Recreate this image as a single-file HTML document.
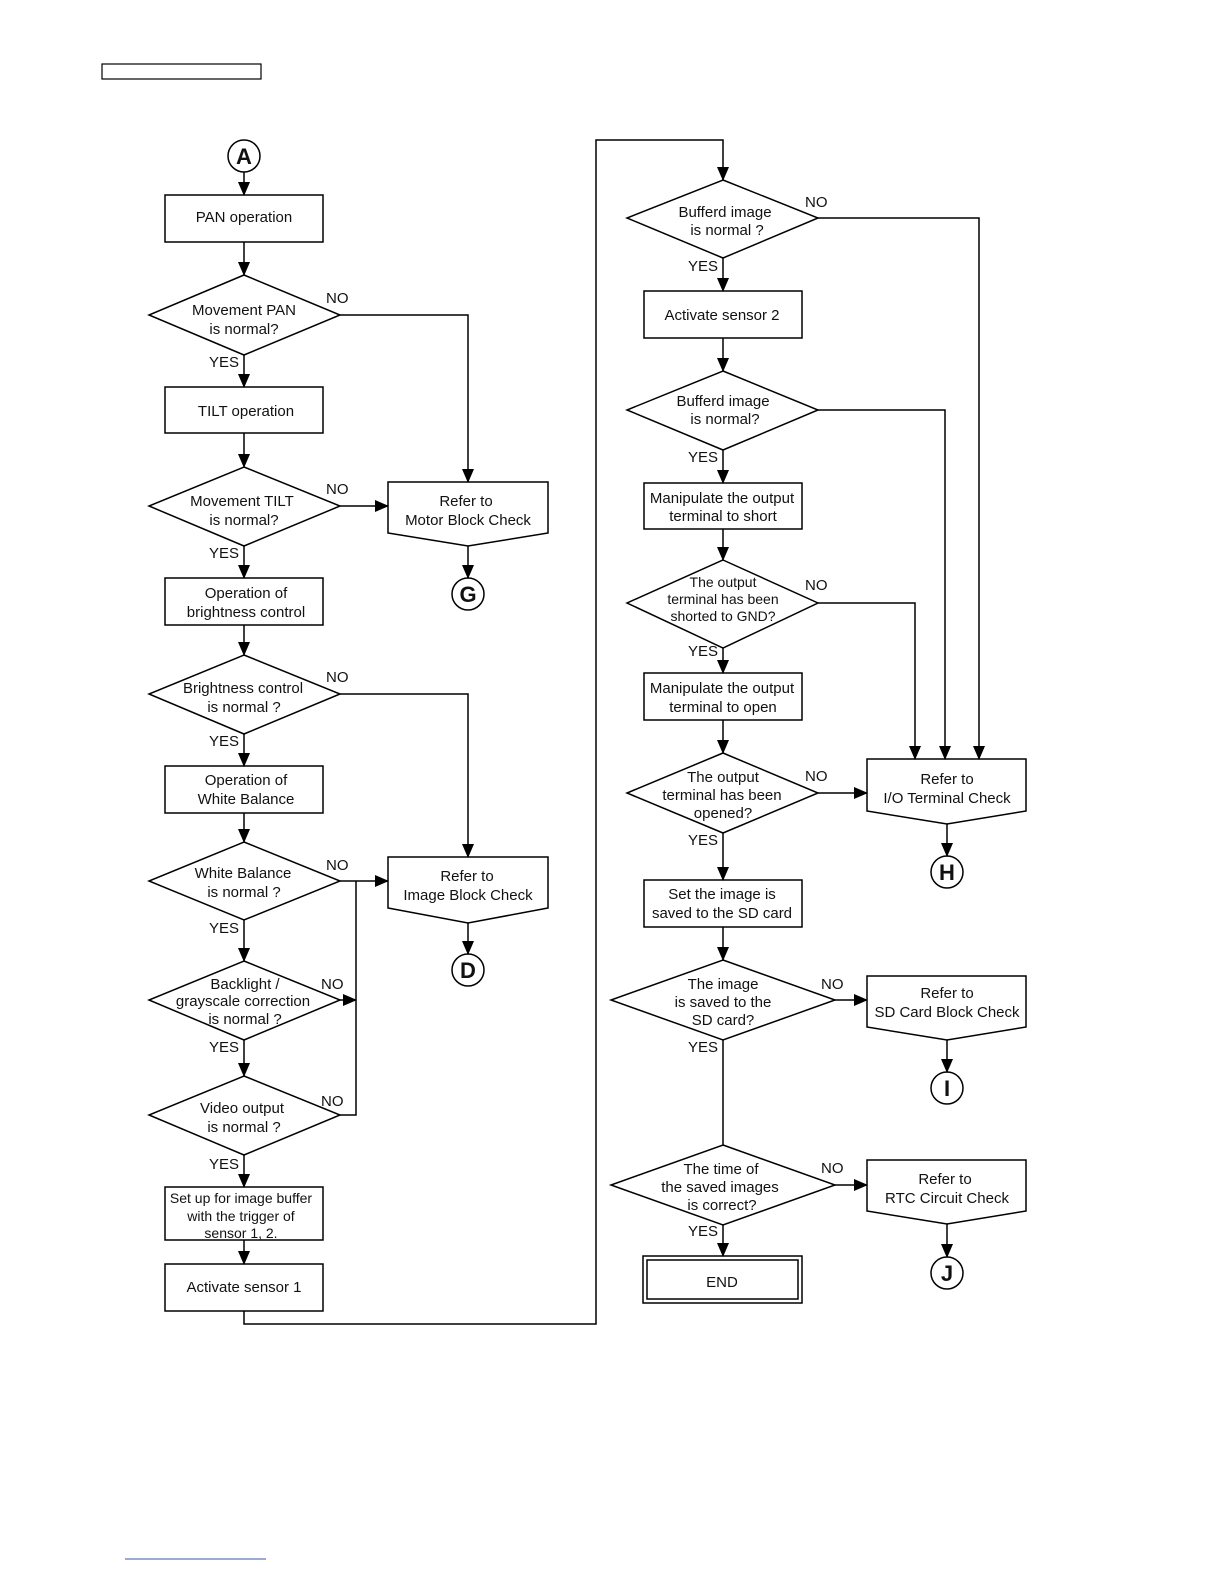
<!DOCTYPE html>
<html><head><meta charset="utf-8"><style>
html,body{margin:0;padding:0;background:#fff}
svg{display:block}
text{font-family:"Liberation Sans",Arial,sans-serif;font-size:15px;fill:#111}
.s{font-size:14px}
.c{font-size:22px;font-weight:bold}
</style></head><body>
<svg width="1224" height="1584" viewBox="0 0 1224 1584" xmlns="http://www.w3.org/2000/svg">
<defs><marker id="a" markerWidth="14" markerHeight="12" refX="13" refY="6" orient="auto" markerUnits="userSpaceOnUse"><path d="M0,0 L14,6 L0,12 z" fill="#000"/></marker></defs>
<g fill="none" stroke="#000" stroke-width="1.5">
<rect x="102" y="64" width="159" height="15" stroke-width="1.2"/>
<!-- left column -->
<circle cx="244" cy="156" r="16"/>
<rect x="165" y="195" width="158" height="47"/>
<polygon points="244,275 340,315 244,355 149,315"/>
<rect x="165" y="387" width="158" height="46"/>
<polygon points="244,467 340,506 244,546 149,506"/>
<rect x="165" y="578" width="158" height="47"/>
<polygon points="244,655 340,694 244,734 149,694"/>
<rect x="165" y="766" width="158" height="47"/>
<polygon points="244,842 340,881 244,920 149,881"/>
<polygon points="244,961 340,1000 244,1040 149,1000"/>
<polygon points="244,1076 340,1115 244,1155 149,1115"/>
<rect x="165" y="1187" width="158" height="53"/>
<rect x="165" y="1264" width="158" height="47"/>
<line x1="244" y1="172" x2="244" y2="195" marker-end="url(#a)"/>
<line x1="244" y1="242" x2="244" y2="275" marker-end="url(#a)"/>
<line x1="244" y1="355" x2="244" y2="387" marker-end="url(#a)"/>
<line x1="244" y1="433" x2="244" y2="467" marker-end="url(#a)"/>
<line x1="244" y1="546" x2="244" y2="578" marker-end="url(#a)"/>
<line x1="244" y1="625" x2="244" y2="655" marker-end="url(#a)"/>
<line x1="244" y1="734" x2="244" y2="766" marker-end="url(#a)"/>
<line x1="244" y1="813" x2="244" y2="842" marker-end="url(#a)"/>
<line x1="244" y1="920" x2="244" y2="961" marker-end="url(#a)"/>
<line x1="244" y1="1040" x2="244" y2="1076" marker-end="url(#a)"/>
<line x1="244" y1="1155" x2="244" y2="1187" marker-end="url(#a)"/>
<line x1="244" y1="1240" x2="244" y2="1264" marker-end="url(#a)"/>
<polyline points="244,1311 244,1324 596,1324 596,140 723,140 723,180" marker-end="url(#a)"/>
<!-- motor/image -->
<polygon points="388,482 548,482 548,533 468,546 388,533"/>
<polyline points="340,315 468,315 468,482" marker-end="url(#a)"/>
<line x1="340" y1="506" x2="388" y2="506" marker-end="url(#a)"/>
<line x1="468" y1="546" x2="468" y2="578" marker-end="url(#a)"/>
<circle cx="468" cy="594" r="16"/>
<polygon points="388,857 548,857 548,908 468,923 388,908"/>
<polyline points="340,694 468,694 468,857" marker-end="url(#a)"/>
<line x1="340" y1="881" x2="388" y2="881" marker-end="url(#a)"/>
<polyline points="340,1115 356,1115 356,881"/>
<line x1="340" y1="1000" x2="356" y2="1000" marker-end="url(#a)"/>
<line x1="468" y1="923" x2="468" y2="954" marker-end="url(#a)"/>
<circle cx="468" cy="970" r="16"/>
<!-- right column -->
<polygon points="723,180 818,218 723,258 627,218"/>
<rect x="644" y="291" width="158" height="47"/>
<polygon points="723,371 818,410 723,450 627,410"/>
<rect x="644" y="483" width="158" height="46"/>
<polygon points="723,560 818,603 723,648 627,603"/>
<rect x="644" y="673" width="158" height="47"/>
<polygon points="723,753 818,793 723,833 627,793"/>
<rect x="644" y="880" width="158" height="47"/>
<polygon points="723,960 835,1000 723,1040 611,1000"/>
<polygon points="723,1145 835,1185 723,1225 611,1185"/>
<rect x="643" y="1256" width="159" height="47"/>
<rect x="647" y="1260" width="151" height="39"/>
<line x1="723" y1="258" x2="723" y2="291" marker-end="url(#a)"/>
<line x1="723" y1="338" x2="723" y2="371" marker-end="url(#a)"/>
<line x1="723" y1="450" x2="723" y2="483" marker-end="url(#a)"/>
<line x1="723" y1="529" x2="723" y2="560" marker-end="url(#a)"/>
<line x1="723" y1="648" x2="723" y2="673" marker-end="url(#a)"/>
<line x1="723" y1="720" x2="723" y2="753" marker-end="url(#a)"/>
<line x1="723" y1="833" x2="723" y2="880" marker-end="url(#a)"/>
<line x1="723" y1="927" x2="723" y2="960" marker-end="url(#a)"/>
<line x1="723" y1="1040" x2="723" y2="1145"/>
<line x1="723" y1="1225" x2="723" y2="1256" marker-end="url(#a)"/>
<polygon points="867,759 1026,759 1026,811 947,824 867,811"/>
<polyline points="818,218 979,218 979,759" marker-end="url(#a)"/>
<polyline points="818,410 945,410 945,759" marker-end="url(#a)"/>
<polyline points="818,603 915,603 915,759" marker-end="url(#a)"/>
<line x1="818" y1="793" x2="867" y2="793" marker-end="url(#a)"/>
<line x1="947" y1="824" x2="947" y2="856" marker-end="url(#a)"/>
<circle cx="947" cy="872" r="16"/>
<polygon points="867,976 1026,976 1026,1027 947,1040 867,1027"/>
<line x1="835" y1="1000" x2="867" y2="1000" marker-end="url(#a)"/>
<line x1="947" y1="1040" x2="947" y2="1072" marker-end="url(#a)"/>
<circle cx="947" cy="1088" r="16"/>
<polygon points="867,1160 1026,1160 1026,1211 947,1224 867,1211"/>
<line x1="835" y1="1185" x2="867" y2="1185" marker-end="url(#a)"/>
<line x1="947" y1="1224" x2="947" y2="1257" marker-end="url(#a)"/>
<circle cx="947" cy="1273" r="16"/>
<line x1="125" y1="1559" x2="266" y2="1559" stroke="#3355aa" stroke-width="1"/>
</g>
<g text-anchor="middle">
<text class="c" x="244" y="164">A</text>
<text class="c" x="468" y="602">G</text>
<text class="c" x="468" y="978">D</text>
<text class="c" x="947" y="880">H</text>
<text class="c" x="947" y="1096">I</text>
<text class="c" x="947" y="1281">J</text>
<text x="244" y="222">PAN operation</text>
<text x="244" y="315">Movement PAN</text><text x="244" y="334">is normal?</text>
<text x="246" y="416">TILT operation</text>
<text x="242" y="506">Movement TILT</text><text x="244" y="525">is normal?</text>
<text x="246" y="598">Operation of</text><text x="246" y="617">brightness control</text>
<text x="243" y="693">Brightness control</text><text x="244" y="712">is normal ?</text>
<text x="246" y="785">Operation of</text><text x="246" y="804">White Balance</text>
<text x="243" y="878">White Balance</text><text x="244" y="897">is normal ?</text>
<text x="245" y="989">Backlight /</text><text x="243" y="1006">grayscale correction</text><text x="245" y="1024">is normal ?</text>
<text x="242" y="1113">Video output</text><text x="244" y="1132">is normal ?</text>
<text class="s" x="241" y="1203">Set up for image buffer</text><text class="s" x="241" y="1221">with the trigger of</text><text class="s" x="241" y="1238">sensor 1, 2.</text>
<text x="244" y="1292">Activate sensor 1</text>
<text x="466" y="506">Refer to</text><text x="468" y="525">Motor Block Check</text>
<text x="467" y="881">Refer to</text><text x="468" y="900">Image Block Check</text>
<text x="725" y="217">Bufferd image</text><text x="727" y="235">is normal ?</text>
<text x="722" y="320">Activate sensor 2</text>
<text x="723" y="406">Bufferd image</text><text x="725" y="424">is normal?</text>
<text x="722" y="503">Manipulate the output</text><text x="723" y="521">terminal to short</text>
<text class="s" x="723" y="587">The output</text><text class="s" x="723" y="604">terminal has been</text><text class="s" x="723" y="621">shorted to GND?</text>
<text x="722" y="693">Manipulate the output</text><text x="723" y="712">terminal to open</text>
<text x="723" y="782">The output</text><text x="722" y="800">terminal has been</text><text x="723" y="818">opened?</text>
<text x="722" y="899">Set the image is</text><text x="722" y="918">saved to the SD card</text>
<text x="723" y="989">The image</text><text x="723" y="1007">is saved to the</text><text x="723" y="1025">SD card?</text>
<text x="721" y="1174">The time of</text><text x="720" y="1192">the saved images</text><text x="722" y="1210">is correct?</text>
<text x="722" y="1287">END</text>
<text x="947" y="784">Refer to</text><text x="947" y="803">I/O Terminal Check</text>
<text x="947" y="998">Refer to</text><text x="947" y="1017">SD Card Block Check</text>
<text x="945" y="1184">Refer to</text><text x="947" y="1203">RTC Circuit Check</text>
</g>
<g>
<text x="326" y="303">NO</text><text x="209" y="367">YES</text>
<text x="326" y="494">NO</text><text x="209" y="558">YES</text>
<text x="326" y="682">NO</text><text x="209" y="746">YES</text>
<text x="326" y="870">NO</text><text x="209" y="933">YES</text>
<text x="321" y="989">NO</text><text x="209" y="1052">YES</text>
<text x="321" y="1106">NO</text><text x="209" y="1169">YES</text>
<text x="805" y="207">NO</text><text x="688" y="271">YES</text>
<text x="688" y="462">YES</text>
<text x="805" y="590">NO</text><text x="688" y="656">YES</text>
<text x="805" y="781">NO</text><text x="688" y="845">YES</text>
<text x="821" y="989">NO</text><text x="688" y="1052">YES</text>
<text x="821" y="1173">NO</text><text x="688" y="1236">YES</text>
</g>
</svg>
</body></html>
